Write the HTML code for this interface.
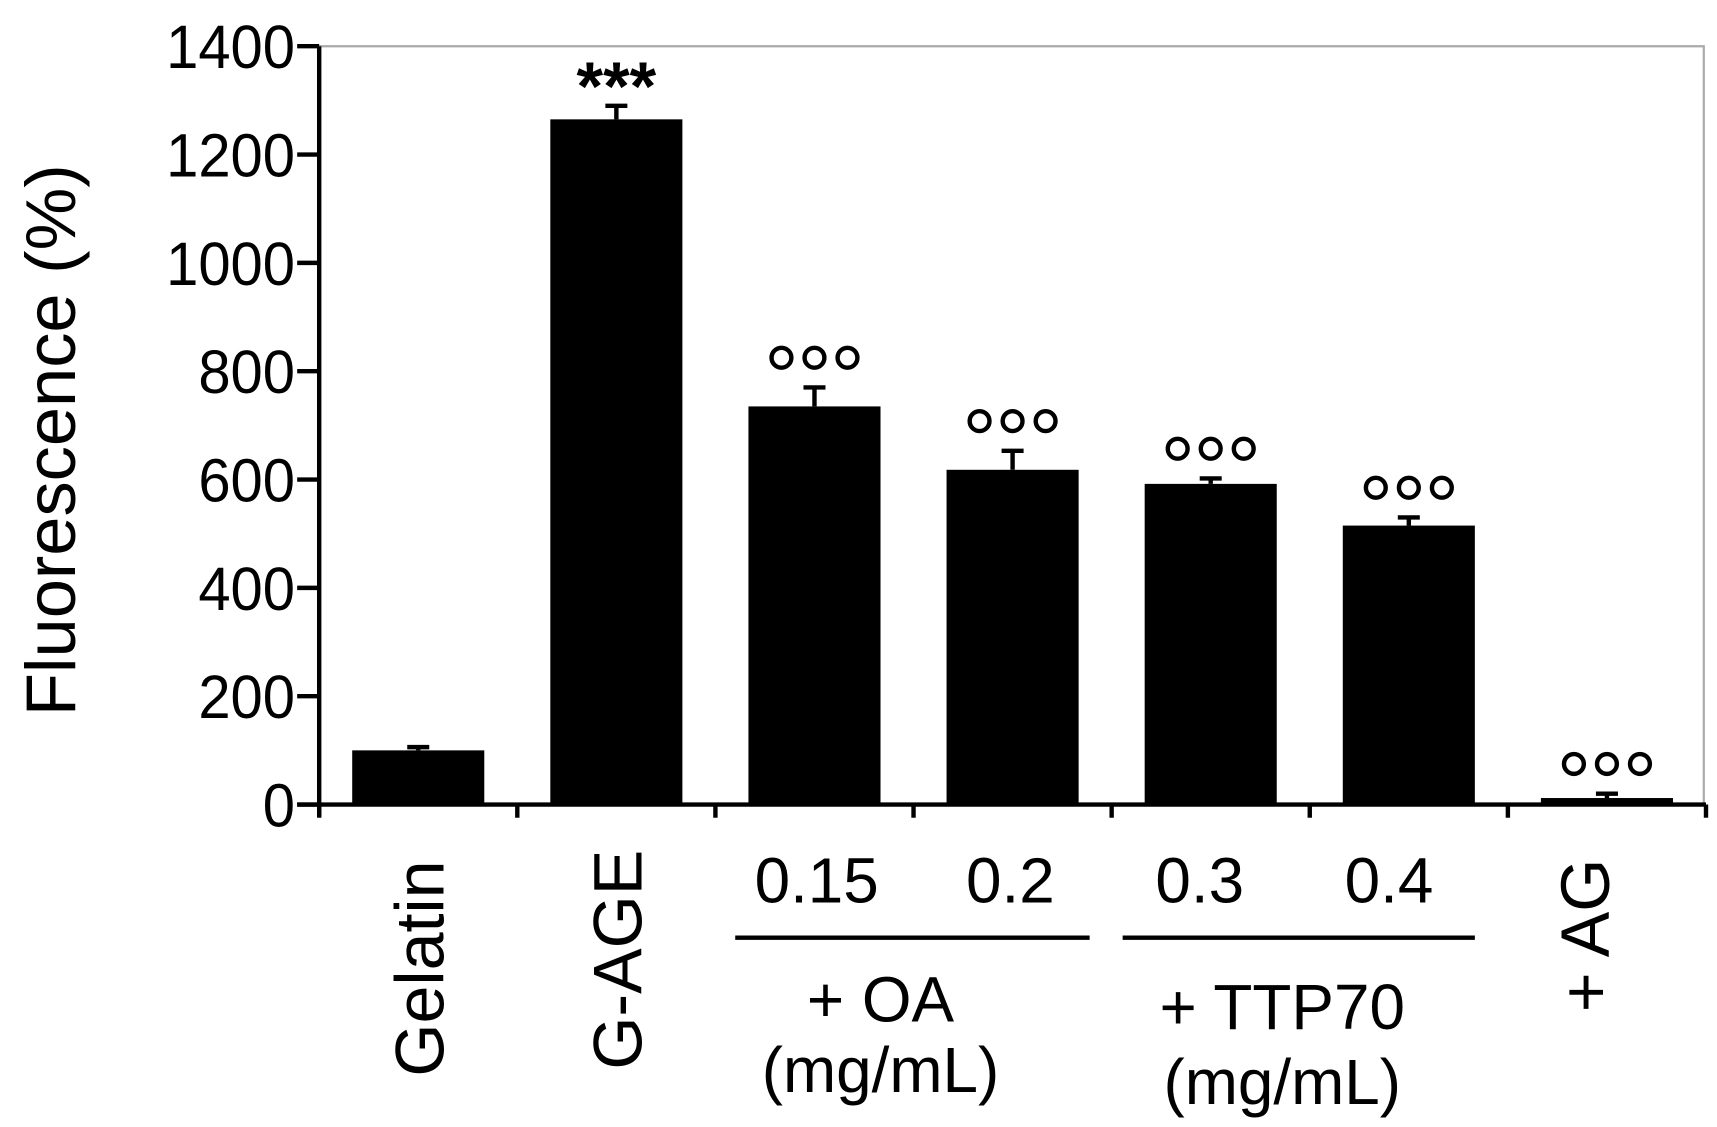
<!DOCTYPE html>
<html><head><meta charset="utf-8"><style>
html,body{margin:0;padding:0;background:#fff}
svg{display:block}
text{font-family:"Liberation Sans",Arial,sans-serif;fill:#000}
</style></head><body>
<svg id="chart" width="1717" height="1127" viewBox="0 0 1560 1024" preserveAspectRatio="none" xmlns="http://www.w3.org/2000/svg">
<g id="g"></g>
</svg>
<script>
const categories = ["Gelatin","G-AGE","0.15","0.2","0.3","0.4","+ AG"];
const values = [100,1265,735,618,592,515,12];
const errors = [6,25,35,35,10,15,8];
const marks = ["","***","ooo","ooo","ooo","ooo","ooo"];
const yTicks = [0,200,400,600,800,1000,1200,1400];

const NS="http://www.w3.org/2000/svg";
const g=document.getElementById('g');
const x0=290, x1=1550, yBase=731, yTop=42, yMax=1400, band=180, bw=120;
const y=v=>yBase-(v/yMax)*(yBase-yTop);
const xc=i=>x0+band*i+band/2;
function el(t,a,p){const e=document.createElementNS(NS,t);for(const k in a)e.setAttribute(k,a[k]);(p||g).appendChild(e);return e;}

const fr=el('path',{d:`M${x0} ${yTop} H1548 V${yBase}`,stroke:'#aaa','stroke-width':2,fill:'none'});



categories.forEach((c,i)=>{
  const b=el('rect',{x:xc(i)-bw/2,y:y(values[i]),width:bw,height:yBase-y(values[i]),fill:'#000'});
  
  
  const eb=el('path',{d:`M${xc(i)} ${y(values[i])} V${y(values[i]+errors[i])} M${xc(i)-10} ${y(values[i]+errors[i])} H${xc(i)+10}`,stroke:'#000','stroke-width':4,fill:'none'});
  
  
  const top=y(values[i]+errors[i]);
  if(marks[i]==="***"){
    const t=el('text',{x:xc(i),y:top+4,'text-anchor':'middle','font-size':62,'font-weight':'bold'});
    t.textContent="***";
    
    
  } else if(marks[i]==="ooo"){
    [-30,0,30].forEach(d=>{
      const ci=el('circle',{cx:xc(i)+d,cy:top-27,r:9,fill:'none',stroke:'#000','stroke-width':4});
      
      
    });
  }
});

const ax=el('path',{d:`M${x0} ${yTop} V${yBase+11} M${x0-20} ${yBase} H${x1}`,stroke:'#000','stroke-width':4,fill:'none'});


yTicks.forEach(v=>{
  const tk=el('path',{d:`M${x0-20} ${y(v)} H${x0}`,stroke:'#000','stroke-width':4});
  
  
  const t=el('text',{x:0,y:0,'text-anchor':'end','font-size':56,transform:`translate(${x0-22},${y(v)+20}) scale(0.94,1)`});
  t.textContent=v;
  
  
});
for(let i=0;i<=categories.length;i++){
  const tk=el('path',{d:`M${x0+band*i} ${yBase} V${yBase+12}`,stroke:'#000','stroke-width':4});
  
  
}

function txt(s,x,yy,size,name,rot){
  const t=el('text',{x:0,y:0,'text-anchor':'middle','font-size':size,transform:rot?`translate(${x},${yy}) rotate(-90)`:`translate(${x},${yy})`});
  t.textContent=s;
  
  
}
txt("Fluorescence  (%)",68,400,64,'y-axis-title',true);
txt("Gelatin",403,880,62,'x-label-gelatin',true);
txt("G-AGE",583,872,62,'x-label-g-age',true);
txt("+ AG",1462,850,62,'x-label-ag',true);
txt("0.15",742,820,58,'x-label-oa-015');
txt("0.2",918,820,58,'x-label-oa-02');
txt("0.3",1090,820,58,'x-label-ttp-03');
txt("0.4",1262,820,58,'x-label-ttp-04');
txt("+ OA",800,928,58,'group-label-oa');
txt("(mg/mL)",800,992,58,'group-unit-oa');
txt("+ TTP70",1165,935,58,'group-label-ttp70');
txt("(mg/mL)",1165,1003,58,'group-unit-ttp70');
const l1=el('path',{d:'M668 852 H990 M1020 852 H1340',stroke:'#000','stroke-width':4});


</script>
</body></html>
